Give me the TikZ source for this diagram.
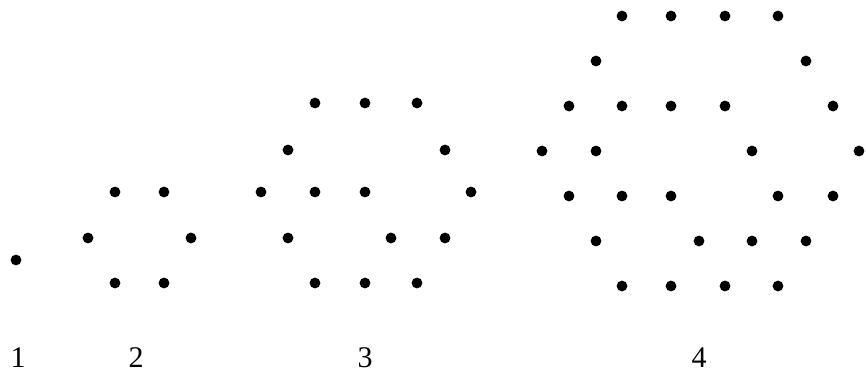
\documentclass[tikz,border=0pt]{standalone}
\usepackage{fontspec}
\setmainfont{Liberation Serif}
\begin{document}
\begin{tikzpicture}[x=1pt,y=-1pt,
  dot/.style={circle,fill=black,inner sep=0pt,minimum size=10.8pt},
  lbl/.style={anchor=base,inner sep=0pt,font=\fontsize{30}{30}\selectfont}]
\useasboundingbox (0,0) rectangle (866,374);
% figure 1
\node[dot] (a1) at (16,260) {};
% figure 2
\foreach \x/\y [count=\i] in {115/192,164/192,88/238,191/238,115/283,164/283}
  \node[dot] (b\i) at (\x,\y) {};
% figure 3
\foreach \x/\y [count=\i] in {315/103,365/103,417/103,
  288/150,445/150,
  261/192,315/192,365/192,471/192,
  288/238,391/238,445/238,
  315/283,365/283,417/283}
  \node[dot] (c\i) at (\x,\y) {};
% figure 4
\foreach \x/\y [count=\i] in {622/16,671/16,725/16,778/16,
  596/61,806/61,
  569/106,622/106,671/106,725/106,833/106,
  542/151,596/151,752/151,859/151,
  569/196,622/196,671/196,778/196,833/196,
  596/241,699/241,752/241,806/241,
  622/286,671/286,725/286,778/286}
  \node[dot] (d\i) at (\x,\y) {};
% labels
\node[lbl] (l1) at (18,367) {1};
\node[lbl] (l2) at (136,367) {2};
\node[lbl] (l3) at (365,367) {3};
\node[lbl] (l4) at (699,367) {4};
\end{tikzpicture}
\end{document}
